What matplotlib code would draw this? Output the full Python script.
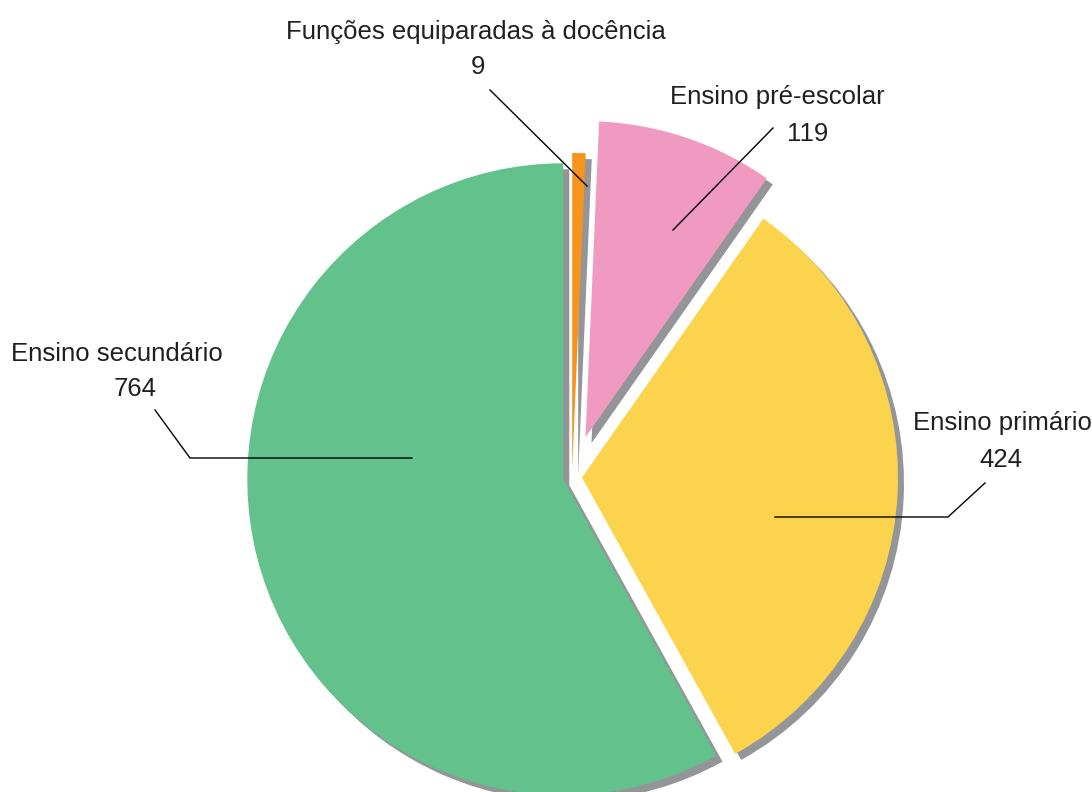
import matplotlib
matplotlib.use('Agg')
import matplotlib.pyplot as plt

plt.rcParams['font.family'] = ['Liberation Sans Narrow', 'Liberation Sans', 'DejaVu Sans']

labels = ['Funções equiparadas à docência', 'Ensino pré-escolar', 'Ensino primário', 'Ensino secundário']
values = [9, 119, 424, 764]
colors = ['#F7941D', '#F19AC1', '#FCD34C', '#63C18C']
explode_px = [8, 42, 10, 9]

W, H = 1092, 792
fig = plt.figure(figsize=(W / 100, H / 100), dpi=100)
ax = fig.add_axes([0, 0, 1, 1])

cx, cy, r = 572, H - 477, 316
# shadow pie, shifted right/down
ax.pie(values, colors=['#939598'] * 4, explode=explode_px, startangle=90, counterclock=False,
       radius=r, center=(cx + 6, cy - 6), wedgeprops=dict(linewidth=0, zorder=1))
ax.pie(values, colors=colors, explode=explode_px, startangle=90, counterclock=False,
       radius=r, center=(cx, cy), wedgeprops=dict(linewidth=0, zorder=2))

ax.set_xlim(0, W)
ax.set_ylim(0, H)
ax.set_aspect('equal')
ax.axis('off')

fs = 18.5
# label text, value text and leader line (image pixel coords, y from top)
def label(name, val, name_xy, val_xy, pts):
    ax.text(name_xy[0], H - name_xy[1], name, ha='center', va='center', fontsize=fs,
            color='#231F20', zorder=5)
    ax.text(val_xy[0], H - val_xy[1], str(val), ha='center', va='center', fontsize=fs,
            color='#231F20', zorder=5)
    xs = [p[0] for p in pts]
    ys = [H - p[1] for p in pts]
    ax.plot(xs, ys, color='black', lw=1, zorder=4)

label(labels[0], values[0], (476, 32), (478, 67), [(587, 186), (490, 90)])
label(labels[1], values[1], (777, 97), (808, 134), [(673, 230), (773, 128)])
label(labels[2], values[2], (1002, 423), (1001, 460), [(775, 517), (948, 517), (985, 483)])
label(labels[3], values[3], (117, 354), (135, 389), [(412, 458), (190, 458), (155, 410)])

fig.savefig('out.png', dpi=100)
